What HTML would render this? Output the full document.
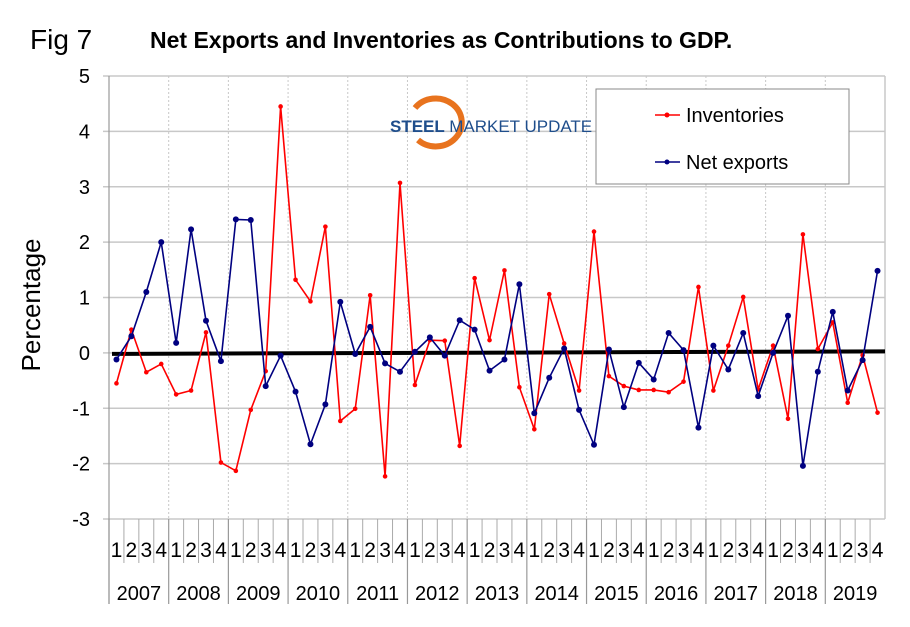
<!DOCTYPE html>
<html><head><meta charset="utf-8"><style>
body{margin:0;background:#fff;}
svg text{font-family:"Liberation Sans",sans-serif;}
</style></head><body>
<svg width="910" height="622" viewBox="0 0 910 622" xmlns="http://www.w3.org/2000/svg">
<rect width="910" height="622" fill="#fff"/>
<text x="30" y="49" font-size="28">Fig 7</text>
<text x="150" y="48" font-size="23" font-weight="bold">Net Exports and Inventories as Contributions to GDP.</text>
<text transform="translate(40,305) rotate(-90)" text-anchor="middle" font-size="26">Percentage</text>
<g id="grid"></g>
<g id="logo">
<path d="M415,108 A26,24 0 1 1 418,140" fill="none" stroke="#e8731e" stroke-width="6"/>
<text x="390" y="132" font-size="17" font-weight="bold" fill="#1f4e8c">STEEL <tspan font-weight="normal">MARKET UPDATE</tspan></text>
</g>
<g id="axes"></g>
<g id="series"></g>
<g>
<rect x="596" y="89" width="253" height="95" fill="#fff" stroke="#888" stroke-width="1"/>
<g>
<line x1="655" y1="115" x2="680" y2="115" stroke="#ff0000" stroke-width="1.5"/>
<circle cx="667" cy="115" r="2.5" fill="#ff0000"/>
<text x="686" y="122" font-size="20">Inventories</text></g>
<g>
<line x1="655" y1="162" x2="680" y2="162" stroke="#000080" stroke-width="1.5"/>
<circle cx="667" cy="162" r="2.5" fill="#000080"/>
<text x="686" y="169" font-size="20">Net exports</text></g>
</g>
</svg>
<script>
const years=["2007","2008","2009","2010","2011","2012","2013","2014","2015","2016","2017","2018","2019"];
const quarters=["1","2","3","4"];
const yTicks=[5,4,3,2,1,0,-1,-2,-3];
const inventories=[-0.55,0.42,-0.35,-0.2,-0.75,-0.68,0.37,-1.98,-2.13,-1.03,-0.33,4.45,1.32,0.93,2.28,-1.23,-1.01,1.04,-2.23,3.07,-0.58,0.23,0.22,-1.68,1.35,0.23,1.49,-0.62,-1.38,1.06,0.17,-0.68,2.19,-0.42,-0.6,-0.67,-0.67,-0.71,-0.52,1.19,-0.68,0.13,1.01,-0.66,0.13,-1.19,2.14,0.07,0.55,-0.9,-0.04,-1.08];
const netExports=[-0.12,0.3,1.1,2.0,0.18,2.23,0.58,-0.15,2.41,2.4,-0.6,-0.05,-0.7,-1.65,-0.93,0.92,-0.02,0.47,-0.19,-0.34,0.02,0.28,-0.05,0.59,0.42,-0.32,-0.12,1.24,-1.09,-0.45,0.08,-1.03,-1.66,0.06,-0.98,-0.18,-0.48,0.36,0.05,-1.35,0.13,-0.3,0.36,-0.78,0.0,0.67,-2.04,-0.34,0.74,-0.68,-0.13,1.48];
const NS="http://www.w3.org/2000/svg";
const L=109,R=885,T=76,B=519,yMax=5,yMin=-3;
const n=years.length*quarters.length;
const qw=(R-L)/n;
const xs=i=>L+(i+0.5)*qw;
const ys=v=>T+(yMax-v)/(yMax-yMin)*(B-T);
function mk(tag,attrs,parent){const e=document.createElementNS(NS,tag);for(const k in attrs)e.setAttribute(k,attrs[k]);parent.appendChild(e);return e;}
const grid=document.getElementById('grid'),axes=document.getElementById('axes'),ser=document.getElementById('series');
yTicks.forEach(t=>{
 const y=ys(t);
 const g=mk('line',{x1:L-6,x2:R,y1:y,y2:y,stroke:'#c8c8c8','stroke-width':1.5},grid);
 
 
 const tx=mk('text',{x:90,y:y+7,'text-anchor':'end','font-size':20},axes);
 tx.textContent=t;
 
 
});
years.forEach((yr,j)=>{
 const x0=L+j*4*qw;
 if(j>0){const v=mk('line',{x1:x0,x2:x0,y1:T,y2:B,stroke:'#c8c8c8','stroke-dasharray':'2,2'},grid);
 
 }
 const s=mk('line',{x1:x0,x2:x0,y1:B,y2:604,stroke:'#999','stroke-width':1.2},axes);
 
 
 quarters.forEach((q,k)=>{
  const i=j*4+k;
  if(k>0){const qs=mk('line',{x1:x0+k*qw,x2:x0+k*qw,y1:B,y2:563,stroke:'#aaa'},axes);
  
  }
  const t=mk('text',{x:xs(i),y:557,'text-anchor':'middle','font-size':21},axes);
  t.textContent=q;
  
  
 });
 const yt=mk('text',{x:x0+2*qw,y:600,'text-anchor':'middle','font-size':20},axes);
 yt.textContent=yr;
 
 
});
const ax=mk('line',{x1:L,x2:L,y1:T,y2:604,stroke:'#999','stroke-width':1.2},axes);


const rb=mk('line',{x1:R,x2:R,y1:T,y2:B,stroke:'#c8c8c8','stroke-width':1.5},grid);


const z=mk('line',{x1:L+3,x2:R,y1:ys(0)+1,y2:ys(0)-1.5,stroke:'#000','stroke-width':4},ser);


function drawSeries(vals,color,name,r){
 const p=mk('polyline',{points:vals.map((v,i)=>xs(i)+','+ys(v)).join(' '),fill:'none',stroke:color,'stroke-width':1.6},ser);
 
 
 vals.forEach((v,i)=>{
  const c=mk('circle',{cx:xs(i),cy:ys(v),r:r,fill:color},ser);
  
  
 });
}
drawSeries(inventories,'#ff0000','inventories',2.3);
drawSeries(netExports,'#000080','net-exports',3);
</script>
</body></html>
